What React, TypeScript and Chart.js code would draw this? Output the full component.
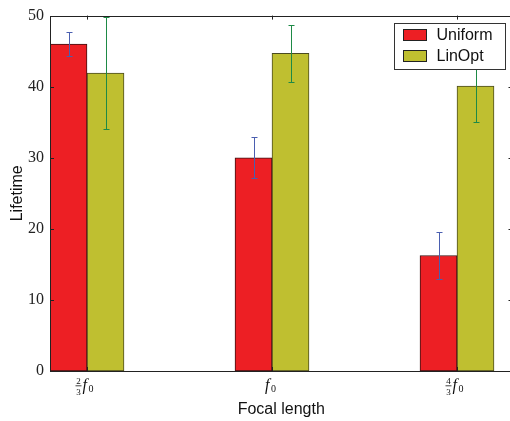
import { useEffect, useRef } from 'react';
import { Chart, registerables } from 'chart.js';

Chart.register(...registerables);

// ---- data ----
const categories = ['2/3 f0', 'f0', '4/3 f0'];
const tickNumerators = ['2', '', '4'];
const tickDenominators = ['3', '', '3'];
const tickSymbol = 'f';
const tickSubscript = '0';
const groupCenters = [0.2, 1.2, 2.2];
const xRange = [0, 2.5];
const yTicks = [0, 10, 20, 30, 40, 50];
const seriesLabels = ['Uniform', 'LinOpt'];
const uniformValues = [46.0, 30.0, 16.25];
const uniformErrors = [1.7, 2.9, 3.3];
const linOptValues = [41.9, 44.7, 40.1];
const linOptErrors = [7.9, 4.0, 5.0];

const RED = '#ED1F24';
const OLIVE = '#BFBF30';
const SANS = '"Liberation Sans", Arial, sans-serif';
const SERIF = '"Liberation Serif", "Times New Roman", serif';

const errorBarPlugin = {
  id: 'errorBars',
  afterDatasetsDraw(chart: any) {
    const ctx = chart.ctx;
    const y = chart.scales.y;
    chart.data.datasets.forEach((ds: any, di: number) => {
      const meta = chart.getDatasetMeta(di);
      ctx.save();
      ctx.strokeStyle = ds.errorColor;
      ctx.lineWidth = 1;
      meta.data.forEach((bar: any, i: number) => {
        const v = ds.data[i].y;
        const e = ds.errors[i];
        const x = Math.round(bar.x) + 0.5;
        const yt = Math.round(y.getPixelForValue(v + e)) + 0.5;
        const yb = Math.round(y.getPixelForValue(v - e)) + 0.5;
        ctx.beginPath();
        ctx.moveTo(x, yt);
        ctx.lineTo(x, yb);
        ctx.moveTo(x - 3, yt);
        ctx.lineTo(x + 3, yt);
        ctx.moveTo(x - 3, yb);
        ctx.lineTo(x + 3, yb);
        ctx.stroke();
      });
      ctx.restore();
    });
  },
};

const framePlugin = {
  id: 'frame',
  afterDraw(chart: any) {
    const ctx = chart.ctx;
    const { left, right, top, bottom } = chart.chartArea;
    const xs = chart.scales.x;
    const ys = chart.scales.y;
    ctx.save();
    // spines
    ctx.strokeStyle = '#222';
    ctx.lineWidth = 1;
    ctx.strokeRect(Math.round(left) + 0.5, Math.round(top) + 0.5, Math.round(right - left), Math.round(bottom - top));
    // inward ticks
    ctx.beginPath();
    xs.ticks.forEach((_t: any, i: number) => {
      const px = Math.round(xs.getPixelForTick(i)) + 0.5;
      ctx.moveTo(px, top);
      ctx.lineTo(px, top + 4);
      ctx.moveTo(px, bottom);
      ctx.lineTo(px, bottom - 4);
    });
    ys.ticks.forEach((_t: any, i: number) => {
      const py = Math.round(ys.getPixelForTick(i)) + 0.5;
      ctx.moveTo(left, py);
      ctx.lineTo(left + 4, py);
      ctx.moveTo(right, py);
      ctx.lineTo(right - 4, py);
    });
    ctx.stroke();

    // x tick labels (math style)
    ctx.fillStyle = '#111';
    ctx.strokeStyle = '#111';
    categories.forEach((_c, i) => {
      const px = xs.getPixelForValue(groupCenters[i]);
      let fX;
      if (tickNumerators[i]) {
        const fracX = px - 8.5;
        ctx.font = `9px ${SERIF}`;
        ctx.textAlign = 'center';
        ctx.textBaseline = 'alphabetic';
        ctx.fillText(tickNumerators[i], fracX, bottom + 12.5);
        ctx.fillText(tickDenominators[i], fracX, bottom + 23.5);
        ctx.beginPath();
        ctx.lineWidth = 0.8;
        ctx.moveTo(fracX - 3, bottom + 14.8);
        ctx.lineTo(fracX + 3, bottom + 14.8);
        ctx.stroke();
        fX = px - 4.5;
      } else {
        fX = px - 7;
      }
      ctx.textAlign = 'left';
      ctx.textBaseline = 'alphabetic';
      ctx.font = `italic 16px ${SERIF}`;
      ctx.fillText(tickSymbol, fX, bottom + 18.5);
      ctx.font = `10px ${SERIF}`;
      ctx.fillText(tickSubscript, fX + 6, bottom + 21);
    });

    // legend
    const bw = 111;
    const bh = 46;
    const bx = Math.round(right - 8 - bw) + 0.5;
    const by = Math.round(top + 7) + 0.5;
    ctx.fillStyle = '#fff';
    ctx.fillRect(bx, by, bw, bh);
    ctx.strokeStyle = '#333';
    ctx.lineWidth = 1;
    ctx.strokeRect(bx, by, bw, bh);
    chart.data.datasets.forEach((ds: any, di: number) => {
      const ry = by + 6 + di * 21;
      ctx.fillStyle = ds.backgroundColor;
      ctx.fillRect(bx + 9, ry, 23, 11);
      ctx.strokeStyle = '#222';
      ctx.strokeRect(bx + 9, ry, 23, 11);
      ctx.fillStyle = '#111';
      ctx.font = `16px ${SANS}`;
      ctx.textAlign = 'left';
      ctx.textBaseline = 'middle';
      ctx.fillText(ds.label, bx + 42, ry + 6);
    });
    ctx.restore();
  },
};

export default function App() {
  const ref = useRef<HTMLCanvasElement | null>(null);
  useEffect(() => {
    if (!ref.current) return;
    const chart = new Chart(ref.current, {
      type: 'bar',
      data: {
        datasets: [
          {
            label: seriesLabels[0],
            data: uniformValues.map((v, i) => ({ x: groupCenters[i], y: v })),
            errors: uniformErrors,
            errorColor: '#4a5fb0',
            backgroundColor: RED,
            borderColor: '#3a1212',
            borderWidth: 1,
            borderSkipped: false,
            barThickness: 37,
          } as any,
          {
            label: seriesLabels[1],
            data: linOptValues.map((v, i) => ({ x: groupCenters[i], y: v })),
            errors: linOptErrors,
            errorColor: '#1e8a46',
            backgroundColor: OLIVE,
            borderColor: '#4a4a20',
            borderWidth: 1,
            borderSkipped: false,
            barThickness: 37,
          } as any,
        ],
      },
      options: {
        animation: false,
        responsive: false,
        devicePixelRatio: 1,
        layout: { padding: { top: 13, right: 7.5, left: 0, bottom: 0 } },
        plugins: { legend: { display: false }, tooltip: { enabled: false } },
        scales: {
          x: {
            type: 'linear',
            offset: false,
            min: xRange[0],
            max: xRange[1],
            grid: { display: false, drawTicks: false, offset: false },
            border: { display: false },
            ticks: { display: false },
            afterBuildTicks: (s: any) => {
              s.ticks = groupCenters.map((v) => ({ value: v }));
            },
            afterFit: (s: any) => {
              s.height = 50;
            },
            title: {
              display: true,
              text: 'Focal length',
              color: '#111',
              font: { family: SANS, size: 16 },
              padding: { top: 0, bottom: 2 },
            },
          },
          y: {
            min: yTicks[0],
            max: yTicks[yTicks.length - 1],
            grid: { display: false, drawTicks: false },
            border: { display: false },
            afterBuildTicks: (s: any) => {
              s.ticks = yTicks.map((v) => ({ value: v }));
            },
            ticks: {
              padding: 6,
              color: '#222',
              font: { family: SERIF, size: 16 },
            },
            afterFit: (s: any) => {
              s.width = 50;
            },
            title: {
              display: true,
              text: 'Lifetime',
              color: '#111',
              font: { family: SANS, size: 16 },
              padding: { top: 7.5, bottom: 0 },
            },
          },
        },
      } as any,
      plugins: [errorBarPlugin, framePlugin],
    });
    return () => chart.destroy();
  }, []);
  return (
    <div style={{ position: 'fixed', left: 0, top: 0, width: 510, height: 421, overflow: 'hidden', background: '#fff' }}>
      <canvas ref={ref} width={520} height={421} style={{ width: 520, height: 421, display: 'block' }} />
    </div>
  );
}
